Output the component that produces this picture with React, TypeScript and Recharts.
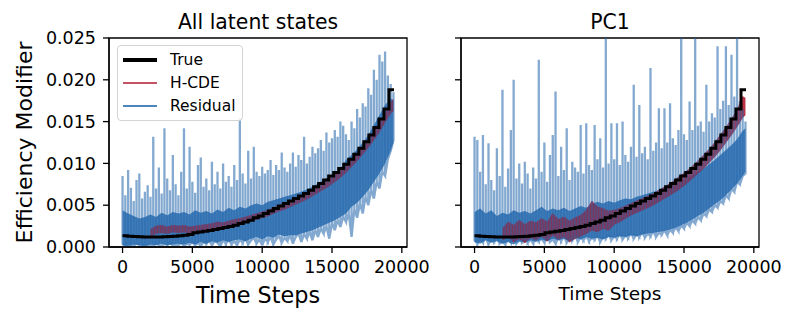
import { ComposedChart, Line, Area, XAxis, YAxis, Legend, ReferenceArea } from "recharts";

const FONT = "DejaVu Sans, sans-serif";
const BLUE = "#2166ac";
const RED = "#b2182b";

const X_TICKS = [0, 5000, 10000, 15000, 20000];
const X_DOMAIN = [-970, 20370];
const Y_TICKS = [0, 0.005, 0.01, 0.015, 0.02, 0.025];

// ground truth modifier (piecewise constant)
const TRUE_T = [
  0, 360, 720, 1080, 1440, 1800, 2160, 2520, 2880, 3240, 3600, 3960, 4320, 4680,
  5040, 5400, 5760, 6120, 6480, 6840, 7200, 7560, 7920, 8280, 8640, 9000, 9360, 9720,
  10080, 10440, 10800, 11160, 11520, 11880, 12240, 12600, 12960, 13320, 13680, 14040,
  14400, 14760, 15120, 15480, 15840, 16200, 16560, 16920, 17280, 17640, 18000, 18360,
  18720, 19080, 19440,
];
const TRUE_V = [
  0.00135, 0.0013, 0.00126, 0.00123, 0.00121, 0.0012, 0.0012, 0.00121, 0.00123, 0.00126,
  0.0013, 0.00135, 0.00142, 0.00151, 0.0017, 0.00178, 0.00187, 0.00197, 0.00208, 0.0022,
  0.00233, 0.00245, 0.0026, 0.0028, 0.003, 0.0032, 0.0035, 0.0037, 0.004, 0.0043, 0.0046,
  0.0049, 0.0052, 0.0055, 0.0058, 0.0061, 0.0064, 0.0068, 0.0072, 0.0076, 0.008, 0.0085,
  0.0089, 0.0094, 0.0099, 0.0105, 0.0111, 0.0118, 0.0126, 0.0134, 0.0143, 0.0153, 0.0165,
  0.0188, 0.0188,
];

// coarse grid for the dense residual core and the H-CDE band
const GRID_T = [
  0, 400, 800, 1200, 1600, 2000, 2400, 2800, 3200, 3600, 4000, 4400, 4800, 5200, 5600,
  6000, 6400, 6800, 7200, 7600, 8000, 8400, 8800, 9200, 9600, 10000, 10400, 10800, 11200,
  11600, 12000, 12400, 12800, 13200, 13600, 14000, 14400, 14800, 15200, 15600, 16000,
  16400, 16800, 17200, 17600, 18000, 18400, 18800, 19200, 19400,
];
const HCDE_T = GRID_T.slice(5);

// All latent states
const CORE_LO_A = [
  0.0002, 0.0001, 0.0003, 0.0002, 0.0001, 0.0003, 0.0002, 0.0004, 0.0002, 0.0003, 0.0004,
  0.0003, 0.0005, 0.0003, 0.0006, 0.0004, 0.0007, 0.0005, 0.0008, 0.0006, 0.0008,
  0.0009, 0.0007, 0.001, 0.0012, 0.0009, 0.0013, 0.0011, 0.0015, 0.0013, 0.0014,
  0.0014, 0.0016, 0.0018, 0.002, 0.0023, 0.0026, 0.0029, 0.0032, 0.0036, 0.004,
  0.0048, 0.0053, 0.006, 0.0068, 0.0078, 0.0088, 0.01, 0.0115, 0.0125,
];
const CORE_HI_A = [
  0.0044, 0.004, 0.0037, 0.0034, 0.0036, 0.0039, 0.0036, 0.0041, 0.0038, 0.0042, 0.004,
  0.0042, 0.0039, 0.0044, 0.0041, 0.0043, 0.004, 0.0045, 0.0042, 0.0047, 0.0044,
  0.0048, 0.0046, 0.005, 0.0052, 0.005, 0.0054, 0.0056, 0.0058, 0.006, 0.0062,
  0.0064, 0.0066, 0.0069, 0.0072, 0.0076, 0.008, 0.0084, 0.0089, 0.0094, 0.0104,
  0.011, 0.0117, 0.0125, 0.0134, 0.0146, 0.0158, 0.017, 0.0178, 0.0175,
];
const HCDE_LO_A = [
  0.0013, 0.0016, 0.0017, 0.0016, 0.0018, 0.0017, 0.0018, 0.0016, 0.0018, 0.0019, 0.002,
  0.0021, 0.0022, 0.0021, 0.0024, 0.0026, 0.0027, 0.0029, 0.0031, 0.0033, 0.0035, 0.0037,
  0.004, 0.0043, 0.0045, 0.0048, 0.0051, 0.0054, 0.0057, 0.0061, 0.0065, 0.0069, 0.0073,
  0.0078, 0.0083, 0.0089, 0.0096, 0.0103, 0.0111, 0.0119, 0.0128, 0.0138, 0.0149, 0.016,
  0.0163,
];
const HCDE_HI_A = [
  0.0021, 0.0025, 0.0026, 0.0024, 0.0026, 0.0025, 0.0026, 0.0024, 0.0025, 0.0026, 0.0027,
  0.0028, 0.003, 0.0029, 0.0031, 0.0033, 0.0034, 0.0036, 0.0038, 0.004, 0.0042, 0.0044,
  0.0047, 0.005, 0.0052, 0.0055, 0.0058, 0.0061, 0.0064, 0.0068, 0.0072, 0.0076, 0.0081,
  0.0086, 0.0091, 0.0097, 0.0104, 0.0112, 0.012, 0.0129, 0.0138, 0.0148, 0.0159, 0.0173,
  0.0177,
];
const SPIKE_HI_A = [
  0.0085, 0.0062, 0.0092, 0.0071, 0.0055, 0.008, 0.0088, 0.0058, 0.0066, 0.0074,
  0.006, 0.0132, 0.007, 0.0095, 0.0064, 0.0142, 0.0082, 0.0068, 0.011, 0.0075,
  0.0062, 0.009, 0.0142, 0.007, 0.012, 0.0078, 0.0065, 0.0098, 0.0107, 0.0072,
  0.0082, 0.0068, 0.0102, 0.0075, 0.009, 0.007, 0.01, 0.0078, 0.0085, 0.0072,
  0.0098, 0.008, 0.0154, 0.0088, 0.0076, 0.0115, 0.0082, 0.012, 0.009, 0.0085,
  0.0096, 0.0088, 0.0092, 0.0104, 0.0086, 0.0098, 0.0092, 0.0113, 0.0095, 0.009,
  0.01, 0.0113, 0.0096, 0.011, 0.0104, 0.0132, 0.01, 0.0108, 0.012, 0.0112,
  0.0118, 0.0128, 0.0115, 0.0137, 0.0125, 0.013, 0.014, 0.0132, 0.015, 0.0145,
  0.0135, 0.0128, 0.015, 0.0142, 0.0165, 0.0155, 0.0172, 0.0168, 0.019, 0.0182,
  0.0212, 0.02, 0.023, 0.0222, 0.0234, 0.0205, 0.0195, 0.0185,
];
const SPIKE_LO_A = [
  0.0004, 0.0001, 0.0006, 0.0002, 0.0, 0.0005, 0.0002, 0.0001, 0.0004, 0.0002,
  0.0003, 0.0, 0.0005, 0.0002, 0.0001, 0.0004, 0.0002, 0.0006, 0.0001, 0.0003,
  0.0002, 0.0005, 0.0001, 0.0004, 0.0003, 0.0006, 0.0002, 0.0005, 0.0001, 0.0006,
  0.0004, 0.0008, 0.0002, 0.0007, 0.0005, 0.0001, 0.0008, 0.0004, 0.0009, 0.0003,
  0.0007, 0.0002, 0.0009, 0.0005, 0.001, 0.0003, 0.0008, 0.0011, 0.0004, 0.0009,
  0.0002, 0.001, 0.0006, 0.0012, 0.0003, 0.0009, 0.0013, 0.0005, 0.0011, 0.0007,
  0.0014, 0.0004, 0.0012, 0.0016, 0.0006, 0.0015, 0.001, 0.0018, 0.0008, 0.002,
  0.0012, 0.0022, 0.0016, 0.0025, 0.001, 0.0028, 0.002, 0.0032, 0.0024, 0.0036,
  0.003, 0.004, 0.0012, 0.0045, 0.0035, 0.0052, 0.004, 0.006, 0.005, 0.0068,
  0.0058, 0.0078, 0.007, 0.009, 0.0085, 0.0105, 0.0115, 0.0128,
];

// PC1
const CORE_LO_B = [
  0.0006, 0.0004, 0.0008, 0.0005, 0.0007, 0.0004, 0.0006, 0.0003, 0.0007, 0.0005, 0.0008,
  0.0006, 0.0009, 0.0007, 0.001, 0.0008, 0.001, 0.0007, 0.0011, 0.0009, 0.0012,
  0.001, 0.0011, 0.0009, 0.0012, 0.0011, 0.0013, 0.0012, 0.0014, 0.0013, 0.0015,
  0.0016, 0.0017, 0.0018, 0.0019, 0.0021, 0.0023, 0.0026, 0.0029, 0.0033, 0.0037,
  0.0041, 0.0046, 0.0051, 0.0056, 0.0062, 0.0069, 0.0076, 0.0085, 0.009,
];
const CORE_HI_B = [
  0.0042, 0.0046, 0.004, 0.0044, 0.0037, 0.0041, 0.0039, 0.0044, 0.0041, 0.0043, 0.004,
  0.0044, 0.0048, 0.0043, 0.0046, 0.0044, 0.0047, 0.0043, 0.0046, 0.0049, 0.0047,
  0.0051, 0.0054, 0.0052, 0.0055, 0.0053, 0.0056, 0.0058, 0.0057, 0.006, 0.0062,
  0.0064, 0.0066, 0.0068, 0.007, 0.0073, 0.0076, 0.0079, 0.0082, 0.0086, 0.009,
  0.0094, 0.0099, 0.0104, 0.011, 0.0116, 0.0122, 0.0129, 0.0139, 0.0142,
];
const HCDE_LO_B = [
  0.0008, 0.0012, 0.0006, 0.001, 0.0005, 0.0011, 0.0008, 0.0013, 0.0007, 0.0014, 0.0009,
  0.0012, 0.0006, 0.001, 0.0013, 0.0016, 0.002, 0.0018, 0.0022, 0.002, 0.0027, 0.003,
  0.0034, 0.0038, 0.0041, 0.0044, 0.0047, 0.005, 0.0054, 0.0058, 0.0062, 0.0066, 0.0071,
  0.0076, 0.0082, 0.0088, 0.0094, 0.0101, 0.0108, 0.0116, 0.0125, 0.0134, 0.0144, 0.0155,
  0.0158,
];
const HCDE_HI_B = [
  0.0022, 0.003, 0.0026, 0.0032, 0.0027, 0.0031, 0.0029, 0.0034, 0.003, 0.004, 0.0033,
  0.0036, 0.0031, 0.0035, 0.0038, 0.0044, 0.0055, 0.0048, 0.0046, 0.0043, 0.0044, 0.0046,
  0.0049, 0.0052, 0.0055, 0.0058, 0.0061, 0.0064, 0.0068, 0.0072, 0.0076, 0.0081, 0.0086,
  0.0091, 0.0097, 0.0103, 0.011, 0.0117, 0.0125, 0.0134, 0.0143, 0.0153, 0.0164, 0.018,
  0.0178,
];
const SPIKE_HI_B = [
  0.0132, 0.0128, 0.009, 0.0134, 0.0075, 0.0124, 0.008, 0.0068, 0.0118, 0.0085,
  0.0188, 0.0072, 0.0094, 0.014, 0.02, 0.0082, 0.01, 0.0076, 0.0102, 0.0088,
  0.007, 0.0095, 0.0082, 0.0224, 0.009, 0.0125, 0.0078, 0.011, 0.0134, 0.0186,
  0.0085, 0.012, 0.0092, 0.0142, 0.008, 0.0102, 0.0095, 0.009, 0.0146, 0.0088,
  0.0148, 0.0098, 0.0092, 0.0146, 0.0105, 0.013, 0.0095, 0.026, 0.01, 0.0148,
  0.0105, 0.0148, 0.0098, 0.015, 0.011, 0.0102, 0.012, 0.0194, 0.0108, 0.017,
  0.0112, 0.012, 0.0105, 0.0214, 0.0115, 0.0125, 0.0166, 0.0118, 0.0166, 0.0125,
  0.0172, 0.013, 0.0122, 0.014, 0.026, 0.0135, 0.0128, 0.0174, 0.014, 0.026,
  0.0145, 0.015, 0.0138, 0.0194, 0.015, 0.016, 0.0155, 0.024, 0.0165, 0.0175,
  0.024, 0.017, 0.023, 0.018, 0.026, 0.0175, 0.0165, 0.015,
];
const SPIKE_LO_B = [
  0.0008, 0.0004, 0.001, 0.0005, 0.0012, 0.0003, 0.0009, 0.0006, 0.0011, 0.0004,
  0.0007, 0.0003, 0.001, 0.0005, 0.0012, 0.0004, 0.0008, 0.0006, 0.0011, 0.0005,
  0.0009, 0.0004, 0.0012, 0.0007, 0.001, 0.0005, 0.0013, 0.0006, 0.0009, 0.0004,
  0.0011, 0.0007, 0.0013, 0.0005, 0.001, 0.0008, 0.0014, 0.0006, 0.0012, 0.0008,
  0.0013, 0.0007, 0.0011, 0.0009, 0.0014, 0.0006, 0.0012, 0.001, 0.0015, 0.0008,
  0.0013, 0.001, 0.0016, 0.0009, 0.0014, 0.0011, 0.0017, 0.001, 0.0015, 0.0012,
  0.0018, 0.0011, 0.0016, 0.0013, 0.0019, 0.0012, 0.0017, 0.0015, 0.002, 0.0014,
  0.0021, 0.0017, 0.0024, 0.0019, 0.0026, 0.0022, 0.0029, 0.0025, 0.0032, 0.0028,
  0.0036, 0.0032, 0.004, 0.0037, 0.0045, 0.0042, 0.005, 0.0047, 0.0055, 0.0052,
  0.0062, 0.0058, 0.007, 0.0066, 0.0078, 0.0075, 0.0085, 0.0088,
];

// fine grid for residual spikes
const SPIKE_T = [
  0, 200, 400, 600, 800, 1000, 1200, 1400, 1600, 1800, 2000, 2200, 2400, 2600, 2800, 3000,
  3200, 3400, 3600, 3800, 4000, 4200, 4400, 4600, 4800, 5000, 5200, 5400, 5600, 5800, 6000,
  6200, 6400, 6600, 6800, 7000, 7200, 7400, 7600, 7800, 8000, 8200, 8400, 8600, 8800, 9000,
  9200, 9400, 9600, 9800, 10000, 10200, 10400, 10600, 10800, 11000, 11200, 11400, 11600,
  11800, 12000, 12200, 12400, 12600, 12800, 13000, 13200, 13400, 13600, 13800, 14000,
  14200, 14400, 14600, 14800, 15000, 15200, 15400, 15600, 15800, 16000, 16200, 16400,
  16600, 16800, 17000, 17200, 17400, 17600, 17800, 18000, 18200, 18400, 18600, 18800,
  19000, 19200, 19400,
];

const trueRows = TRUE_T.map((t, i) => ({ t, v: TRUE_V[i] }));
const bandRows = (ts: number[], lo: number[], hi: number[]) =>
  ts.map((t, i) => ({ t, band: [lo[i], hi[i]] }));
// each residual excursion: trough -> peak -> trough at the same time step
const spikeRows = (lo: number[], hi: number[]) =>
  SPIKE_T.flatMap((t, i) => [
    { t, v: lo[i] },
    { t, v: hi[i] },
    { t, v: lo[i] },
  ]);

const LEGEND_ITEMS = [
  { name: "True", color: "#000", width: 3.5 },
  { name: "H-CDE", color: "#c55260", width: 2.8 },
  { name: "Residual", color: "#4d85bd", width: 2.8 },
];

const LegendBox = () => (
  <div
    style={{
      width: 124,
      height: 74,
      border: "1px solid #d4d4d4",
      borderRadius: 4,
      background: "rgba(255,255,255,0.85)",
      position: "relative",
      fontFamily: FONT,
      fontSize: 15.5,
      color: "#000",
    }}
  >
    {LEGEND_ITEMS.map((it, i) => (
      <div key={it.name} style={{ position: "absolute", left: 5, top: 4 + i * 23, height: 20, display: "flex", alignItems: "center" }}>
        <div style={{ width: 34, height: it.width, background: it.color }} />
        <span style={{ marginLeft: 13, lineHeight: "20px" }}>{it.name}</span>
      </div>
    ))}
  </div>
);

type Band = { t: number; band: number[] };
type Pt = { t: number; v: number };

type PanelProps = {
  left: number;
  width: number;
  yWidth: number;
  rightMargin: number;
  showYLabels: boolean;
  xLabelSize: number;
  xLabelOffset: number;
  core: Band[];
  hcde: Band[];
  spikes: Pt[];
  legend: boolean;
};

function Panel(p: PanelProps) {
  const axisStroke = { stroke: "#000", strokeWidth: 1.3 };
  const tickStyle = { fontSize: 17.5, fill: "#000", fontFamily: FONT };
  return (
    <div style={{ position: "absolute", left: p.left, top: 0 }}>
      <ComposedChart width={p.width} height={321} margin={{ top: 38, right: p.rightMargin, left: 0, bottom: 0 }}>
        <XAxis
          type="number"
          dataKey="t"
          domain={X_DOMAIN}
          ticks={X_TICKS}
          interval={0}
          allowDataOverflow
          height={74}
          tickSize={6}
          tickMargin={8}
          tick={tickStyle}
          axisLine={axisStroke}
          tickLine={axisStroke}
          label={{
            value: "Time Steps",
            position: "insideBottom",
            offset: p.xLabelOffset,
            fontSize: p.xLabelSize,
            fill: "#000",
            fontFamily: FONT,
          }}
        />
        <YAxis
          type="number"
          domain={[0, 0.025]}
          ticks={Y_TICKS}
          interval={0}
          allowDataOverflow
          width={p.yWidth}
          tickSize={6}
          tickMargin={7}
          tick={tickStyle}
          axisLine={axisStroke}
          tickLine={axisStroke}
          tickFormatter={(v: number) => (p.showYLabels ? v.toFixed(3) : "")}
          label={
            p.showYLabels
              ? {
                  value: "Efficiency Modifier",
                  angle: -90,
                  position: "insideLeft",
                  offset: 24,
                  fontSize: 22,
                  fill: "#000",
                  fontFamily: FONT,
                  style: { textAnchor: "middle" },
                }
              : undefined
          }
        />
        <Area
          data={p.core}
          dataKey="band"
          type="linear"
          stroke="none"
          fill={BLUE}
          fillOpacity={0.8}
          isAnimationActive={false}
          legendType="none"
          name="core"
        />
        <Line
          data={p.spikes}
          dataKey="v"
          type="linear"
          stroke={BLUE}
          strokeOpacity={0.56}
          strokeWidth={2.3}
          dot={false}
          isAnimationActive={false}
          name="Residual"
        />
        <Area
          data={p.hcde}
          dataKey="band"
          type="linear"
          stroke={RED}
          strokeOpacity={0.6}
          strokeWidth={1}
          fill={RED}
          fillOpacity={0.88}
          isAnimationActive={false}
          name="H-CDE"
        />
        <Line
          data={trueRows}
          dataKey="v"
          type="stepAfter"
          stroke="#000"
          strokeWidth={3}
          dot={false}
          isAnimationActive={false}
          name="True"
        />
        <ReferenceArea x1={X_DOMAIN[0]} x2={X_DOMAIN[1]} y1={0} y2={0.025} fill="none" stroke="#000" strokeWidth={1.3} />
        {p.legend && (
          <Legend
            layout="vertical"
            align="center"
            verticalAlign="middle"
            wrapperStyle={{ left: 117, top: 45, width: 126, height: 76 }}
            content={() => <LegendBox />}
          />
        )}
      </ComposedChart>
    </div>
  );
}

const titleStyle = (cx: number) => ({
  position: "absolute" as const,
  left: cx - 150,
  width: 300,
  top: 12,
  textAlign: "center" as const,
  fontFamily: FONT,
  fontSize: 20.4,
  lineHeight: "20px",
  color: "#000",
});

export default function App() {
  return (
    <div style={{ position: "absolute", left: 0, top: 0, width: 798, height: 321, background: "#fff", overflow: "hidden" }}>
      <Panel
        left={0}
        width={460}
        yWidth={109}
        rightMargin={53}
        showYLabels
        xLabelSize={22.3}
        xLabelOffset={18}
        core={bandRows(GRID_T, CORE_LO_A, CORE_HI_A)}
        hcde={bandRows(HCDE_T, HCDE_LO_A, HCDE_HI_A)}
        spikes={spikeRows(SPIKE_LO_A, SPIKE_HI_A)}
        legend
      />
      <Panel
        left={420}
        width={378}
        yWidth={41}
        rightMargin={39}
        showYLabels={false}
        xLabelSize={18.5}
        xLabelOffset={21}
        core={bandRows(GRID_T, CORE_LO_B, CORE_HI_B)}
        hcde={bandRows(HCDE_T, HCDE_LO_B, HCDE_HI_B)}
        spikes={spikeRows(SPIKE_LO_B, SPIKE_HI_B)}
        legend={false}
      />
      <div style={titleStyle(258)}>All latent states</div>
      <div style={titleStyle(610)}>PC1</div>
    </div>
  );
}
